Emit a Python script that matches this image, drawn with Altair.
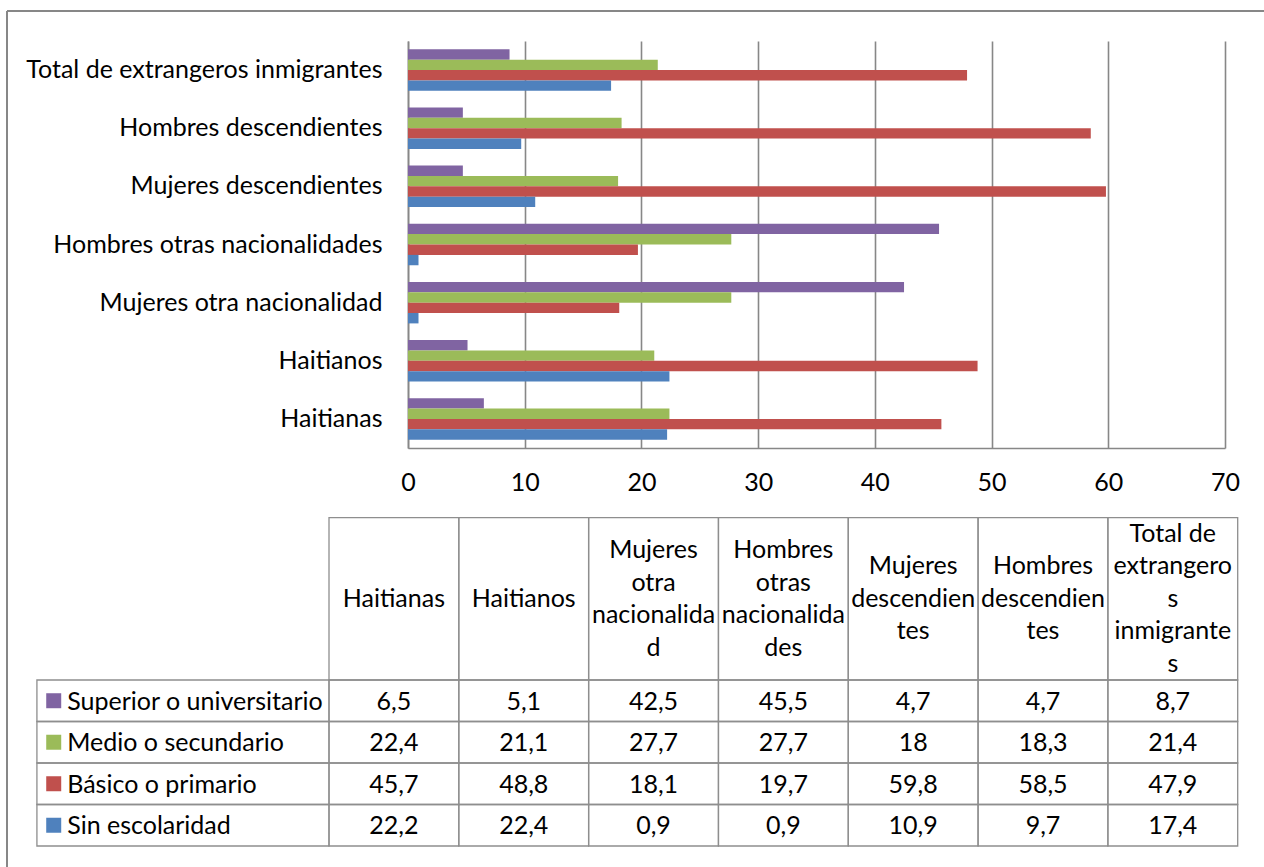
import altair as alt
import pandas as pd

# Categories in table order (left to right); the bar chart lists them bottom to top
categorias = [
    "Haitianas",
    "Haitianos",
    "Mujeres otra nacionalidad",
    "Hombres otras nacionalidades",
    "Mujeres descendientes",
    "Hombres descendientes\u00a0",
    "Total de extrangeros inmigrantes",
]
# Wrapped column headers of the data table
encabezados = [
    "Haitianas",
    "Haitianos",
    "Mujeres\notra\nnacionalida\nd",
    "Hombres\notras\nnacionalida\ndes",
    "Mujeres\ndescendien\ntes",
    "Hombres\ndescendien\ntes",
    "Total de\nextrangero\ns\ninmigrante\ns",
]
niveles = ["Superior o universitario", "Medio o secundario", "Básico o primario", "Sin escolaridad"]
colores = ["#8064A2", "#9BBB59", "#C0504D", "#4F81BD"]

superior = [6.5, 5.1, 42.5, 45.5, 4.7, 4.7, 8.7]
medio = [22.4, 21.1, 27.7, 27.7, 18, 18.3, 21.4]
basico = [45.7, 48.8, 18.1, 19.7, 59.8, 58.5, 47.9]
sin_escolaridad = [22.2, 22.4, 0.9, 0.9, 10.9, 9.7, 17.4]
series = [superior, medio, basico, sin_escolaridad]

marcas_x = [0, 10, 20, 30, 40, 50, 60, 70]

FUENTE = "Lato"
TAM = 25
INTERLINEA = 32.5
GRIS = "#878787"
GRIS_TABLA = "#8e8e8e"

ANCHO, ALTO = 817, 407
FILA_PX = 41.5  # height of one table row in pixels


def fmt(v):
    return f"{v:g}".replace(".", ",")


# ---------- bar chart ----------
barras_df = pd.DataFrame(
    [
        {"categoria": c, "nivel": n, "valor": v}
        for n, serie in zip(niveles, series)
        for c, v in zip(categorias, serie)
    ]
)
escala_color = alt.Scale(domain=niveles, range=colores)

barras = alt.Chart(barras_df).mark_bar().encode(
    x=alt.X(
        "valor:Q",
        scale=alt.Scale(domain=[0, 70], nice=False),
        axis=alt.Axis(
            values=marcas_x,
            title=None,
            grid=True,
            gridColor=GRIS,
            gridWidth=1.6,
            domainColor=GRIS,
            domainWidth=1.6,
            ticks=False,
            tickSize=0,
            labelFlush=False,
            labelFont=FUENTE,
            labelFontSize=TAM,
            labelColor="#000000",
            labelPadding=22,
        ),
    ),
    y=alt.Y(
        "categoria:N",
        sort=list(reversed(categorias)),
        scale=alt.Scale(paddingInner=0.286, paddingOuter=0.143),
        axis=alt.Axis(
            title=None,
            ticks=False,
            tickSize=0,
            domainColor=GRIS,
            domainWidth=1.6,
            labelFont=FUENTE,
            labelFontSize=TAM,
            labelColor="#000000",
            labelPadding=26,
            labelLimit=0,
        ),
    ),
    yOffset=alt.YOffset("nivel:N", sort=niveles, scale=alt.Scale(paddingInner=0, paddingOuter=0)),
    color=alt.Color("nivel:N", scale=escala_color, legend=None),
)

# ---------- data table ----------
ANCHO_LEYENDA = 2.25   # label column, in column widths
ALTO_ENC = 3.91        # header row, in row heights
tx = alt.Scale(domain=[0, 7], range=[329 - 408, 1237.7 - 408], nice=False, zero=False)
ty = alt.Scale(domain=[0, ALTO_ENC + 4], range=[517.7 - 41, 846 - 41], nice=False, zero=False)

celdas = []
for i in range(len(categorias)):
    celdas.append({"x0": i, "x1": i + 1, "y0": 0, "y1": ALTO_ENC})
for k in range(len(niveles)):
    y0 = ALTO_ENC + k
    celdas.append({"x0": -ANCHO_LEYENDA, "x1": 0, "y0": y0, "y1": y0 + 1})
    for i in range(len(categorias)):
        celdas.append({"x0": i, "x1": i + 1, "y0": y0, "y1": y0 + 1})
celdas_df = pd.DataFrame(celdas)

rejilla = alt.Chart(celdas_df).mark_rect(fillOpacity=0, stroke=GRIS_TABLA, strokeWidth=1.3).encode(
    x=alt.X("x0:Q", scale=tx, axis=None),
    x2="x1:Q",
    y=alt.Y("y0:Q", scale=ty, axis=None),
    y2="y1:Q",
)

# first line of each header, placed so that the whole block is centred in the cell
enc_df = pd.DataFrame(
    {
        "x": [i + 0.5 for i in range(len(encabezados))],
        "y": [
            ALTO_ENC / 2 - (e.count("\n") * INTERLINEA / 2) / FILA_PX
            for e in encabezados
        ],
        "texto": encabezados,
    }
)
texto_enc = alt.Chart(enc_df).mark_text(
    font=FUENTE, fontSize=TAM, color="#000000", lineBreak="\n", lineHeight=INTERLINEA,
    align="center", baseline="middle",
).encode(
    x=alt.X("x:Q", scale=tx, axis=None),
    y=alt.Y("y:Q", scale=ty, axis=None),
    text="texto:N",
)

val_df = pd.DataFrame(
    [
        {"x": i + 0.5, "y": ALTO_ENC + k + 0.5, "texto": fmt(v)}
        for k, serie in enumerate(series)
        for i, v in enumerate(serie)
    ]
)
texto_val = alt.Chart(val_df).mark_text(
    font=FUENTE, fontSize=TAM, color="#000000", align="center", baseline="middle", dy=1,
).encode(
    x=alt.X("x:Q", scale=tx, axis=None),
    y=alt.Y("y:Q", scale=ty, axis=None),
    text="texto:N",
)

ley_df = pd.DataFrame(
    {"x": -ANCHO_LEYENDA, "y": [ALTO_ENC + k + 0.5 for k in range(len(niveles))], "nivel": niveles}
)
cuadros = alt.Chart(ley_df).mark_square(size=225, opacity=1, xOffset=16.8).encode(
    x=alt.X("x:Q", scale=tx, axis=None),
    y=alt.Y("y:Q", scale=ty, axis=None),
    color=alt.Color("nivel:N", scale=escala_color, legend=None),
)
nombres = alt.Chart(ley_df).mark_text(
    font=FUENTE, fontSize=TAM, color="#000000", align="left", baseline="middle", dx=30.3, dy=1,
).encode(
    x=alt.X("x:Q", scale=tx, axis=None),
    y=alt.Y("y:Q", scale=ty, axis=None),
    text="nivel:N",
)

# ---------- outer frame (top and left edges) ----------
marco_sup = alt.Chart(pd.DataFrame({"a": [0]})).mark_rule(color=GRIS, strokeWidth=2).encode(
    x=alt.value(-401), x2=alt.value(860), y=alt.value(-30)
)
marco_izq = alt.Chart(pd.DataFrame({"a": [0]})).mark_rule(color=GRIS, strokeWidth=2).encode(
    x=alt.value(-401), y=alt.value(-30), y2=alt.value(830)
)

chart = (
    alt.layer(barras, rejilla, texto_enc, texto_val, cuadros, nombres, marco_sup, marco_izq)
    .resolve_scale(x="independent", y="independent")
    .properties(
        width=ANCHO,
        height=ALTO,
        autosize=alt.AutoSizeParams(type="none"),
        padding={"left": 408, "top": 41, "right": 39, "bottom": 419},
        background="#ffffff",
    )
    .configure_view(stroke="transparent")
)

chart.save("out.html", embed_options={"renderer": "svg", "actions": False})
